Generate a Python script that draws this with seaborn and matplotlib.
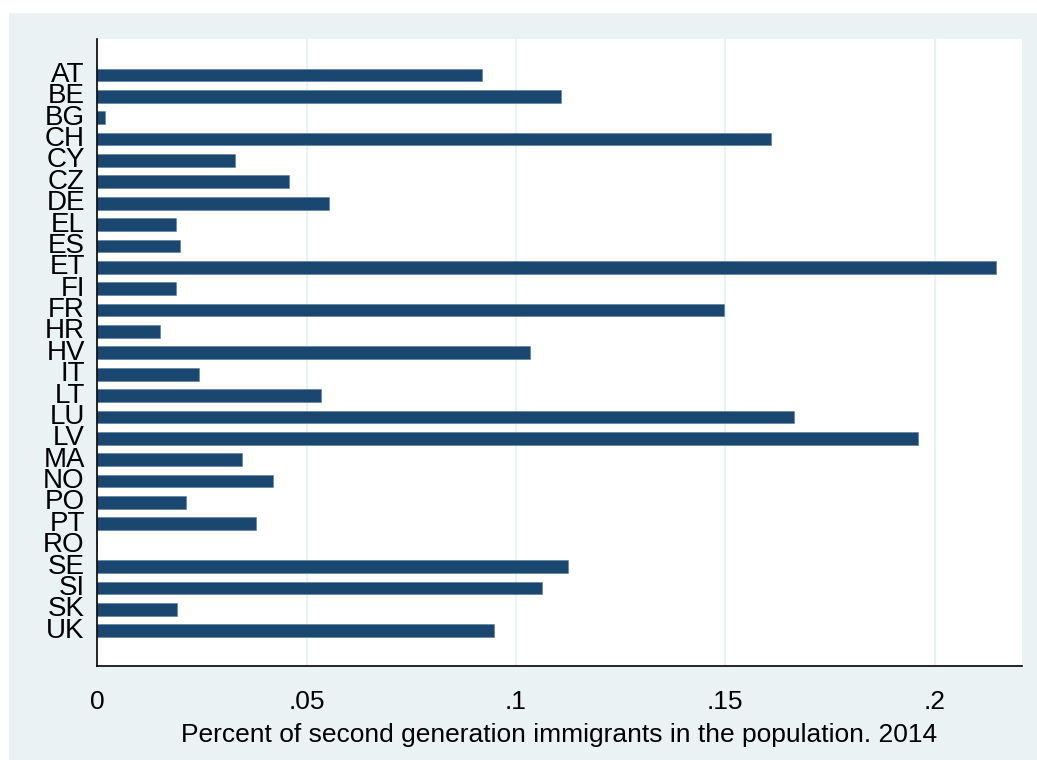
import matplotlib
matplotlib.use("Agg")
import matplotlib.pyplot as plt
import seaborn as sns
import pandas as pd
from matplotlib.patches import Rectangle

countries = ["AT", "BE", "BG", "CH", "CY", "CZ", "DE", "EL", "ES", "ET", "FI", "FR", "HR", "HV",
             "IT", "LT", "LU", "LV", "MA", "NO", "PO", "PT", "RO", "SE", "SI", "SK", "UK"]
share = [0.0918, 0.1107, 0.0018, 0.1609, 0.0328, 0.0457, 0.0553, 0.0188, 0.0198, 0.2146,
         0.0188, 0.1497, 0.0149, 0.1034, 0.0244, 0.0534, 0.1665, 0.1961, 0.0346, 0.0420,
         0.0211, 0.0378, 0.0, 0.1124, 0.1063, 0.0190, 0.0947]
x_ticks = [0, 0.05, 0.1, 0.15, 0.2]
x_ticklabels = ["0", ".05", ".1", ".15", ".2"]
x_title = "Percent of second generation immigrants in the population. 2014"

df = pd.DataFrame({"country": countries, "share": share})

sns.set_theme(style="white")
plt.rcParams['font.family'] = ['Liberation Sans', 'DejaVu Sans']

BG = "#eaf2f3"
BAR = "#1a476f"

fig = plt.figure(figsize=(10.37, 7.6), dpi=100, facecolor="white")
fig.patches.append(Rectangle((9 / 1037, 0), 1 - 9 / 1037, 1 - 13 / 760,
                             transform=fig.transFigure, facecolor=BG,
                             edgecolor="none", zorder=-10))
ax = fig.add_axes([97.3 / 1037, 1 - 666 / 760, (1021.7 - 97.3) / 1037, (666 - 39) / 760])
ax.set_facecolor("white")

sns.barplot(data=df, x="share", y="country", order=countries, color=BAR,
            saturation=1, width=0.6, ax=ax, edgecolor="#5a7a98", linewidth=0.4)

ax.set_xlim(0, 0.2208)
ax.set_ylim(27.65, -1.68)
ax.set_xticks(x_ticks)
ax.set_xticklabels(x_ticklabels, fontsize=19, color="black")
ax.tick_params(axis="x", direction="out", length=8, width=1.2, color="black", pad=9)
ax.tick_params(axis="y", length=0, pad=9, labelsize=20, labelcolor="black")
for lab in ax.get_yticklabels():
    lab.set_verticalalignment("center")

for t in x_ticks[1:]:
    ax.axvline(t, color=BG, linewidth=1.5, zorder=0)

ax.set_xlabel(x_title, fontsize=19, color="black", labelpad=7)
ax.set_ylabel("")

for s in ["top", "right"]:
    ax.spines[s].set_visible(False)
for s in ["left", "bottom"]:
    ax.spines[s].set_color("black")
    ax.spines[s].set_linewidth(1.2)

fig.savefig("out.png", dpi=100, facecolor="white")
